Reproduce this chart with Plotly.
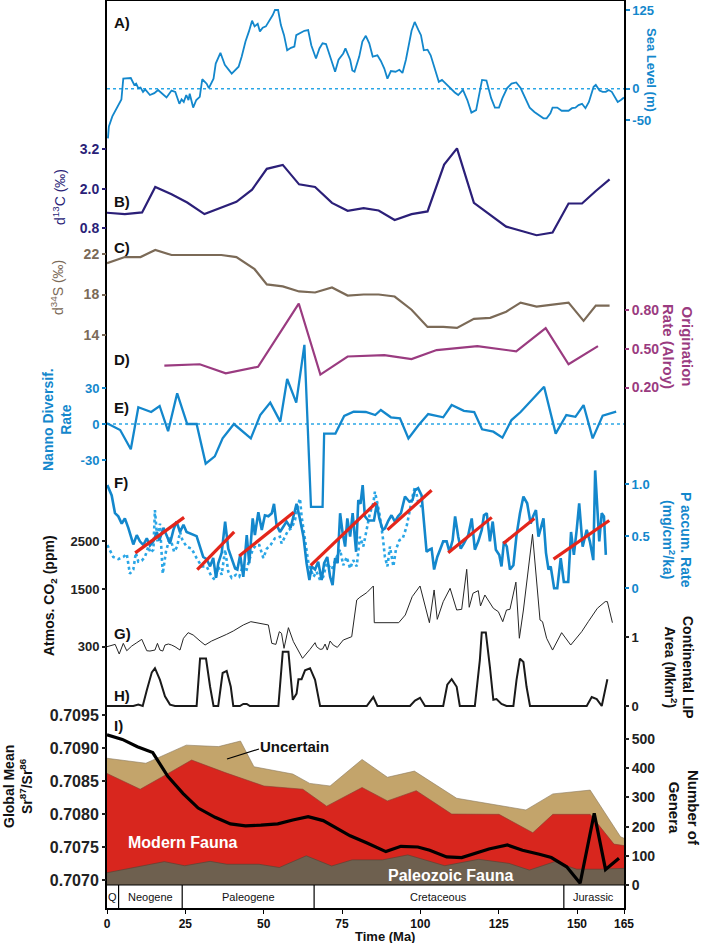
import plotly.graph_objects as go

# ---------------- data ----------------
SL_MA = [0.3,0.6,1.7,3.2,4.6,5.2,7.6,8.7,9.3,10.0,10.7,11.5,12.2,13.7,15.1,16.3,17.7,19.0,20.6,21.8,
         23.1,23.8,24.5,25.3,26.0,26.4,27.5,28.5,29.6,30.4,31.8,32.5,34.0,34.7,36.2,37.6,39.8,42.0,43.0,44.2,
         45.3,46.3,47.1,48.1,48.8,49.7,50.7,51.9,52.9,53.6,54.6,55.5,56.5,57.5,58.7,59.8,60.4,63.0,64.2,65.2,
         66.7,67.8,68.8,69.9,71.0,72.8,73.9,75.4,76.1,77.6,78.3,79.0,80.5,81.5,82.6,83.7,84.8,86.3,87.4,88.5,
         89.5,90.6,92.1,93.3,94.3,95.4,97.2,98.2,99.4,100.2,101.1,102.3,103.3,104.7,105.9,106.9,108.1,109.5,111.0,112.1,
         113.6,115.0,116.3,117.8,119.0,119.7,121.1,122.6,123.8,125.1,126.2,127.7,129.1,130.6,132.0,133.5,134.9,136.4,137.8,139.3,
         140.3,141.5,142.2,143.7,145.1,147.3,148.4,149.5,150.5,151.6,152.7,153.8,155.3,156.0,157.2,158.2,159.2,160.1,161.1,162.1,
         163.0,164.0,165.0]
SEA_LEVEL = [-79,-60,-44,-29,-17,16,17,6,8,1,2,-5,-1,-10,-7,-2,-9,-14,-3,-5,
             -24,-17,-21,-10,-18,-8,-30,-18,-13,15,8,1,16,40,57,38,24,35,51,75,
             91,108,99,103,91,97,99,108,117,125,125,101,85,61,65,67,85,92,93,69,
             48,64,72,71,53,27,46,56,64,46,29,27,51,75,84,72,51,53,44,32,
             16,28,27,30,25,46,92,106,93,85,61,62,53,30,11,14,8,2,-6,-10,
             -2,-18,-38,-34,-6,14,13,-15,-30,-30,-15,1,8,10,1,-15,-30,-37,-42,-47,
             -47,-39,-30,-30,-35,-35,-31,-30,-26,-24,-31,-21,3,6,-3,-5,-5,-2,-5,-13,
             -21,-18,-14]

C13_MA = [0,5.7,11.2,15.4,20.6,25.6,31.1,36.2,41.3,46.3,51.0,56.1,61.3,66.4,71.8,76.8,81.9,86.7,91.8,97.2,
          102.3,107.6,111.7,117.1,122.3,127.4,137.1,142.2,147.3,151.6,156.0,160.4]
D13C = [1.27,1.23,1.28,2.05,1.83,1.58,1.23,1.42,1.60,1.97,2.60,2.72,2.13,2.05,1.57,1.33,1.41,1.34,1.05,1.23,
        1.31,2.73,3.22,1.57,1.20,0.85,0.59,0.67,1.55,1.55,1.93,2.28]

S34_MA = [0,5.7,10.7,15.4,20.6,26.7,36.5,41.3,47.1,51.0,56.1,61.3,66.4,71.8,76.8,81.9,86.7,91.8,97.2,102.3,
          107.3,111.7,117.1,122.3,127.4,132.0,137.1,142.2,147.3,152.1,156.0,160.4]
D34S = [21.1,21.7,21.7,22.4,21.9,21.9,21.9,21.7,20.5,19.0,18.8,18.3,18.2,18.7,17.9,18.0,18.0,17.8,16.5,14.8,
        14.8,14.7,15.6,15.7,16.3,17.2,16.8,17.0,17.2,15.4,16.9,16.9]

ORIG_MA = [18.3,29.6,37.9,48.2,61.2,68.1,76.8,88.5,97.2,105.2,118.2,130.6,140.0,147.3,156.7]
ORIG_RATE = [0.37,0.38,0.31,0.36,0.85,0.30,0.44,0.45,0.42,0.49,0.52,0.48,0.66,0.38,0.52]

NANNO_MA = [0,4.2,7.6,10.0,14.1,16.8,19.5,22.4,25.6,28.6,31.5,34.4,36.9,40.5,45.9,48.9,52.1,55.3,57.5,60.4,
            63.0,65.1,68.8,69.3,72.9,75.7,78.7,82.6,85.6,87.4,90.6,93.5,96.2,99.4,102.5,107.3,110.0,113.9,117.2,119.7,
            123.3,126.2,129.1,132.0,139.5,143.2,146.6,149.5,152.1,155.0,158.2,162.5]
NANNO_RATE = [0.6,-5,-21,14,10,15,-6,25.6,0,0,-33,-27,-12,0,-12,7.5,17.8,2,37.5,17.8,
              66,-69,-69,-8,-8,6.7,10.3,10,7.5,11.7,5.6,4.7,-12,-1,8.3,5.6,15.8,11,10,-4.4,
              -6.4,-11.4,3.3,10,31,-8,7.5,6,15.8,-12,7,10.3]

P_MA = [0.1,1.5,2.55,3.6,4.7,5.7,6.8,8.4,9.5,10.5,11.6,12.7,13.7,14.8,15.9,16.7,18.0,19.0,20.1,21.2,
        22.2,23.3,24.4,25.4,27.6,28.6,30.7,31.8,32.9,33.9,34.8,35.5,36.6,37.7,38.7,39.8,40.9,41.6,42.5,43.5,
        44.6,45.4,46.5,47.2,48.3,49.4,50.4,51.5,52.6,53.3,54.1,
        55.2,56.3,57.3,58.6,59.6,60.5,61.4,62.7,63.7,64.6,65.3,66.4,67.4,68.5,69.3,70.3,71.2,72.0,72.8,73.6,
        74.4,75.2,76.0,76.7,77.6,78.4,79.5,80.2,80.9,81.6,82.3,83.4,84.5,85.2,86.1,86.9,88.0,88.7,89.8,90.8,
        91.9,92.9,93.8,95.1,96.5,97.5,98.3,99.3,100.4,101.2,102.0,102.9,103.6,104.4,105.4,106.3,
        107.3,108.4,109.3,110.3,111.1,112.1,112.9,113.9,115.3,116.4,117.4,118.5,119.6,120.3,121.2,122.2,123.1,124.1,125.2,125.9,
        126.7,127.6,128.6,129.7,130.7,131.8,132.9,134.1,135.2,136.0,136.9,137.7,138.5,139.3,140.1,140.9,141.6,142.7,143.7,144.8,
        145.8,147.2,148.1,149.0,149.9,150.7,151.8,153.1,154.1,155.2,155.8,156.5,157.1,157.9,158.6,159.2]
P_RATE = [0.99,0.89,0.72,0.69,0.62,0.67,0.58,0.42,0.51,0.45,0.415,0.48,0.41,0.45,0.54,0.46,0.58,0.51,0.43,0.56,
          0.64,0.54,0.61,0.54,0.51,0.50,0.30,0.28,0.21,0.29,0.10,0.24,0.34,0.64,0.38,0.29,0.19,0.18,0.32,0.11,
          0.51,0.24,0.67,0.51,0.73,0.56,0.70,0.69,0.72,0.81,0.61,
          0.54,0.59,0.64,0.58,0.69,0.81,0.69,0.495,0.24,0.08,0.21,0.18,0.255,0.08,0.24,0.30,0.11,0.03,0.29,0.24,
          0.72,0.53,0.40,0.67,0.495,0.72,0.35,0.845,0.81,0.99,0.69,0.65,0.65,0.65,0.81,0.67,0.56,0.575,0.65,0.70,
          0.64,0.69,0.72,0.88,0.83,0.845,0.94,0.96,0.89,0.64,0.35,0.37,0.38,0.18,0.30,0.37,
          0.45,0.45,0.35,0.46,0.69,0.495,0.38,0.43,0.51,0.67,0.37,0.45,0.56,0.70,0.72,0.45,0.64,0.37,0.32,0.21,
          0.45,0.40,0.18,0.22,0.51,0.72,0.88,0.815,0.62,0.69,0.75,0.495,0.575,0.67,0.34,0.18,0.21,0.0,0.0,0.29,
          0.06,0.06,0.54,0.32,0.56,0.815,0.40,0.56,0.45,0.27,1.13,0.75,0.45,0.72,0.69,0.32]

P2_MA = [0.1,2.0,3.6,5.2,6.3,7.3,8.4,9.2,10.0,11.1,12.1,13.2,13.9,14.8,15.3,16.1,16.9,17.8,18.8,20.1,
         21.4,22.4,23.3,24.1,25.4,27.0,28.6,30.2,31.8,33.4,34.5,35.5,36.6,37.7,38.7,39.8,41.2,42.2,43.3,44.4,
         45.4,46.5,47.5,48.6,49.9,51.0,52.2,53.6,55.2,
         55.7,56.8,57.9,58.9,60.0,61.1,61.6,62.1,63.2,64.3,65.9,66.9,68.0,69.0,70.1,71.7,73.3,74.4,75.4,76.5,
         77.6,78.6,79.7,80.7,81.8,82.9,83.9,85.0,85.5,86.3,87.1,88.0,88.7,89.5,90.3,91.4,92.2,93.3,94.4,95.6,
         96.7,97.5,98.3,99.3,100.4]
P2_RATE = [0.415,0.30,0.28,0.30,0.33,0.14,0.18,0.34,0.255,0.265,0.30,0.40,0.34,0.37,0.75,0.45,0.62,0.14,0.35,0.495,
           0.35,0.40,0.54,0.46,0.40,0.38,0.29,0.21,0.21,0.11,0.08,0.21,0.13,0.37,0.16,0.10,0.13,0.11,0.21,0.16,
           0.27,0.37,0.415,0.415,0.29,0.38,0.415,0.48,0.495,
           0.43,0.495,0.56,0.575,0.655,0.815,0.86,0.69,0.46,0.24,0.11,0.16,0.08,0.11,0.24,0.18,0.30,0.37,0.22,0.30,
           0.19,0.27,0.21,0.495,0.40,0.56,0.72,0.815,0.926,0.815,0.69,0.495,0.30,0.21,0.40,0.21,0.37,0.46,0.48,0.59,
           0.77,0.88,0.975,0.83,0.78]

TREND_MA_START = [9.0,28.8,42.2,65.0,89.5,108.9,126.5,142.5]
TREND_MA_END = [24.6,40.6,59.6,85.9,103.6,122.8,136.4,160.3]
TREND_P_START = [0.34,0.18,0.31,0.22,0.56,0.34,0.43,0.28]
TREND_P_END = [0.68,0.54,0.73,0.82,0.94,0.68,0.67,0.65]

CO2_MA = [0,1.5,2.6,3.9,5.2,6.3,7.9,9.5,11.1,12.7,13.7,15.3,16.1,16.9,17.8,18.5,19.6,20.6,21.7,23.3,
          24.4,25.9,27.5,29.7,31.3,33.4,35.5,38.2,40.3,43.5,45.9,48.3,51.5,52.6,53.9,55.0,55.7,56.5,57.9,59.5,
          61.1,62.4,64.8,66.4,66.9,68.0,68.8,69.6,70.3,71.2,72.2,73.5,75.4,78.1,79.7,80.7,82.9,85.0,85.3,93.1,
          95.2,97.4,99.9,101.5,102.9,104.4,105.4,107.3,109.5,111.6,113.2,114.8,115.6,116.8,118.5,119.2,120.6,123.3,124.9,126.3,
          127.5,128.6,130.5,131.6,132.9,135.8,138.2,139.0,140.3,142.2,145.1,148.0,151.5,153.6,156.5,159.0,159.7,161.3]
CO2 = [300,335,349,147,370,216,314,384,454,216,209,230,370,230,209,335,356,335,300,230,
       475,593,545,419,335,419,475,559,628,754,823,789,754,370,349,614,580,266,698,405,
       196,57,245,384,300,245,251,356,230,419,335,286,440,509,1276,1333,1430,1569,802,802,
       963,1346,1569,1172,802,1486,872,1241,1521,1067,1081,1918,1124,1417,1472,1151,1381,1103,1032,823,
       1067,1081,1650,476,1067,2650,858,823,476,230,593,335,614,823,1103,1242,1242,802]

LIP_MA = [0,8.4,10.0,11.4,12.7,14.3,15.3,16.9,18.5,20.1,21.7,28.6,29.7,31.6,32.9,34.0,35.5,36.9,38.2,39.5,
          40.3,42.4,43.5,44.6,45.6,54.7,56.1,57.9,59.3,60.5,61.1,62.1,63.2,64.8,66.4,68.0,82.9,85.0,86.3,96.7,
          98.3,99.9,101.5,107.3,108.6,110.0,111.6,112.6,117.4,119.0,119.6,120.9,122.2,123.3,124.3,125.9,127.5,129.7,130.7,131.8,
          132.9,133.9,135.0,153.1,154.7,156.3,157.9,159.7]
LIP_AREA = [0,0,0.02,0,0.23,0.49,0.55,0.38,0.14,0.02,0,0,0.69,0.69,0.28,0,0,0.48,0.51,0.28,
            0,0,0.03,0.03,0,0,0.79,0.79,0.09,0.18,0.39,0.39,0.52,0.55,0.38,0,0,0.13,0,0,
            0.08,0.12,0,0,0.31,0.39,0.28,0,0,0.67,1.07,1.07,0.57,0.09,0.1,0.03,0,0,0.38,0.69,
            0.64,0.28,0,0,0.13,0.1,0,0.39]

PALEO_MA = [0,11.3,18.3,24.8,32.9,38.3,48.5,55.0,63.6,71.7,78.2,87.9,96.0,107.8,118.6,128.3,134.8,142.9,149.9,157.4,165]
PALEO_GENERA = [42,66,80,66,81,71,71,60,100,65,86,86,103,66,88,74,51,80,54,54,57]
MODERN_MA = [0,10.6,20.5,27.0,37.7,50.1,62.5,70.1,81.4,89.5,98.7,110.0,125.1,135.9,142.3,154.2,161.8,165]
MODERN_CUM = [382,328,388,428,385,339,328,270,334,288,323,243,242,179,242,242,140,135]
UNCERT_MA = [0,12.4,25.3,35.6,42.6,46.9,59.3,64.7,71.2,81.4,89.5,98.1,111.6,133.7,142.3,154.2,163.9,165]
UNCERT_CUM = [434,417,479,474,493,405,380,348,339,430,369,390,297,257,312,325,165,160]

SR_MA = [0,4.9,9.7,14.6,19.4,24.3,29.1,34.5,39.4,44.2,49.1,54.5,59.3,64.2,69.0,73.3,77.6,83.0,89.0,93.8,
         99.2,103.0,108.4,113.2,117.5,121.9,127.8,132.6,138.0,141.8,146.7,151.0,155.5,159.1,163.4]
SR_RATIO = [0.70920,0.70913,0.70902,0.70893,0.70857,0.70831,0.70809,0.70795,0.70785,0.70782,
            0.70783,0.70785,0.70791,0.70796,0.70790,0.70778,0.70767,0.70756,0.70743,0.70751,
            0.70750,0.70745,0.70735,0.70734,0.70740,0.70747,0.70753,0.70745,0.70739,0.70734,
            0.70720,0.70695,0.70801,0.70716,0.70733]

PERIOD_EDGES = [0, 3.7, 24.0, 66.1, 145.8, 165]
PERIOD_NAMES = ["Q", "Neogene", "Paleogene", "Cretaceous", "Jurassic"]

TIME_TICKS = [0, 25, 50, 75, 100, 125, 150, 165]
SL_TICKS = [125, 0, -50]
D13C_TICKS = [3.2, 2.0, 0.8]
D34S_TICKS = [22, 18, 14]
ORIG_TICKS = [0.80, 0.50, 0.20]
NANNO_TICKS = [30, 0, -30]
P_TICKS = [1.0, 0.5, 0]
CO2_TICKS = [2500, 1500, 300]
LIP_TICKS = [1, 0]
SR_TICKS = [0.7095, 0.7090, 0.7085, 0.7080, 0.7075, 0.7070]
GEN_TICKS = [500, 400, 300, 200, 100, 0]

# ---------------- geometry helpers ----------------
W, H = 709, 943
L, R, T, B = 107, 624, 1, 908


def px(x):
    return (x - L) / (R - L)


def py(y):
    return (B - y) / (B - T)


def rng(v1, p1, v2, p2):
    f1, f2 = py(p1), py(p2)
    a = (f2 - f1) / (v2 - v1)
    return [v1 - f1 / a, v1 + (1 - f1) / a]


FONT = "Liberation Sans, Arial, sans-serif"
BLUE = "#1387cc"
LBLUE = "#2aa6e6"
NAVY = "#2b1f78"
BROWN = "#7b6a57"
PURPLE = "#9a3b80"
TREND_RED = "#e3261b"
TAN = "#c3a46b"
FAUNA_RED = "#d8261e"
DARK = "#6e604f"


def fmt(v, nd):
    return f"{v:.{nd}f}"


fig = go.Figure()

# I) genera fills (y2)
fig.add_trace(go.Scatter(x=UNCERT_MA, y=UNCERT_CUM, yaxis="y2", mode="lines", fill="tozeroy",
                         fillcolor=TAN, line=dict(color="#8b7a60", width=0.6)))
fig.add_trace(go.Scatter(x=MODERN_MA, y=MODERN_CUM, yaxis="y2", mode="lines", fill="tozeroy",
                         fillcolor=FAUNA_RED, line=dict(color="#8b3a30", width=0.6)))
fig.add_trace(go.Scatter(x=PALEO_MA, y=PALEO_GENERA, yaxis="y2", mode="lines", fill="tozeroy",
                         fillcolor=DARK, line=dict(color="#4e4436", width=0.6)))
# I) Sr (y3)
fig.add_trace(go.Scatter(x=SR_MA, y=SR_RATIO, yaxis="y3", mode="lines",
                         line=dict(color="black", width=3.2)))
# A) sea level (y)
fig.add_trace(go.Scatter(x=[0, 165], y=[0, 0], yaxis="y", mode="lines",
                         line=dict(color=LBLUE, width=1.5, dash="dot")))
fig.add_trace(go.Scatter(x=SL_MA, y=SEA_LEVEL, yaxis="y", mode="lines",
                         line=dict(color=BLUE, width=1.8)))
# B) d13C (y4)
fig.add_trace(go.Scatter(x=C13_MA, y=D13C, yaxis="y4", mode="lines", line=dict(color=NAVY, width=2.2)))
# C) d34S (y5)
fig.add_trace(go.Scatter(x=S34_MA, y=D34S, yaxis="y5", mode="lines", line=dict(color=BROWN, width=2.2)))
# D) origination (y6)
fig.add_trace(go.Scatter(x=ORIG_MA, y=ORIG_RATE, yaxis="y6", mode="lines", line=dict(color=PURPLE, width=2.2)))
# E) nanno (y7)
fig.add_trace(go.Scatter(x=[0, 165], y=[0, 0], yaxis="y7", mode="lines",
                         line=dict(color=LBLUE, width=1.5, dash="dot")))
fig.add_trace(go.Scatter(x=NANNO_MA, y=NANNO_RATE, yaxis="y7", mode="lines", line=dict(color=BLUE, width=2.3)))
# G) CO2 (y9)
fig.add_trace(go.Scatter(x=CO2_MA, y=CO2, yaxis="y9", mode="lines", line=dict(color="#262626", width=1)))
# H) LIP (y10)
fig.add_trace(go.Scatter(x=LIP_MA, y=LIP_AREA, yaxis="y10", mode="lines", line=dict(color="#1a1a1a", width=2)))
# F) P accumulation (y8)
fig.add_trace(go.Scatter(x=P2_MA, y=P2_RATE, yaxis="y8", mode="lines",
                         line=dict(color=LBLUE, width=2.6, dash="dot")))
fig.add_trace(go.Scatter(x=P_MA, y=P_RATE, yaxis="y8", mode="lines", line=dict(color=BLUE, width=2.6)))
tx, ty = [], []
for a0, a1, b0, b1 in zip(TREND_MA_START, TREND_MA_END, TREND_P_START, TREND_P_END):
    tx += [a0, a1, None]
    ty += [b0, b1, None]
fig.add_trace(go.Scatter(x=tx, y=ty, yaxis="y8", mode="lines", line=dict(color=TREND_RED, width=3.2)))


def yax(side, r, vals, texts, color, size=13, weight="bold", overlay=True, **kw):
    d = dict(domain=[0, 1], anchor="x", side=side, range=r, tickmode="array", tickvals=vals,
             ticktext=texts, ticks="outside", ticklen=4, tickwidth=1.5, tickcolor=color,
             tickfont=dict(family=FONT, size=size, color=color, weight=weight),
             showgrid=False, zeroline=False, showline=False, fixedrange=True, automargin=False)
    if overlay:
        d["overlaying"] = "y"
    d.update(kw)
    return d


layout_axes = dict(
    yaxis=yax("right", rng(0, 88.7, 125, 10), SL_TICKS, [str(v) for v in SL_TICKS], BLUE, 13,
              overlay=False, showline=True, linecolor="black", linewidth=1.5, mirror=True),
    yaxis2=yax("right", rng(0, 885, 500, 739), GEN_TICKS, [str(v) for v in GEN_TICKS], "#222", 14),
    yaxis3=yax("left", rng(0.7070, 880, 0.7095, 715), SR_TICKS, [fmt(v, 4) for v in SR_TICKS], "#222", 16),
    yaxis4=yax("left", rng(3.2, 149, 0.8, 228.3), D13C_TICKS, [fmt(v, 1) for v in D13C_TICKS], NAVY, 14),
    yaxis5=yax("left", rng(22, 254, 14, 335), D34S_TICKS, [str(v) for v in D34S_TICKS], BROWN, 14),
    yaxis6=yax("right", rng(0.80, 310, 0.20, 387.5), ORIG_TICKS, [fmt(v, 2) for v in ORIG_TICKS], PURPLE, 14),
    yaxis7=yax("left", rng(0, 424, 30, 388), NANNO_TICKS, [str(v) for v in NANNO_TICKS], BLUE, 13),
    yaxis8=yax("right", rng(1.0, 484, 0, 588.3), P_TICKS, ["1.0", "0.5", "0"], BLUE, 13),
    yaxis9=yax("left", rng(1500, 589.3, 300, 646.7), CO2_TICKS, [str(v) for v in CO2_TICKS], "#222", 13),
    yaxis10=yax("right", rng(0, 706, 1, 637.3), LIP_TICKS, [str(v) for v in LIP_TICKS], "#222", 13),
)

shapes = [
    dict(type="line", xref="paper", yref="paper", x0=0, x1=1, y0=py(885), y1=py(885),
         line=dict(color="black", width=1.2)),
    dict(type="line", xref="paper", yref="paper", x0=px(227), y0=py(759), x1=px(259), y1=py(749),
         line=dict(color="black", width=1.3)),
]
for e in PERIOD_EDGES[1:-1]:
    shapes.append(dict(type="line", xref="x", yref="paper", x0=e, x1=e, y0=py(885), y1=py(908),
                       line=dict(color="black", width=1.2)))


def ann(text, x, y, size=14, color="black", angle=0, weight="bold", xanchor="center", xref="paper"):
    return dict(text=text, x=px(x) if xref == "paper" else x, y=py(y), xref=xref, yref="paper",
                showarrow=False, textangle=angle, xanchor=xanchor, yanchor="middle",
                font=dict(family=FONT, size=size, color=color, weight=weight))


annotations = []
for i, name in enumerate(PERIOD_NAMES):
    mid = (PERIOD_EDGES[i] + PERIOD_EDGES[i + 1]) / 2
    annotations.append(ann(name, mid, 896.5, 11, "#111", weight="normal", xref="x"))

for lab, yy in [("A)", 23), ("B)", 201), ("C)", 247), ("D)", 360), ("E)", 407),
                ("F)", 482), ("G)", 633), ("H)", 695), ("I)", 725)]:
    annotations.append(ann(lab, 112, yy, 15, "#111", xanchor="left"))

annotations += [
    ann("Sea Level (m)", 652, 70, 13, BLUE, 90),
    ann("d<sup>13</sup>C (‰)", 59, 197, 14, NAVY, -90, "normal"),
    ann("d<sup>34</sup>S (‰)", 57, 288, 14, BROWN, -90, "normal"),
    ann("Origination<br>Rate (Alroy)", 678, 346, 15, PURPLE, 90),
    ann("Nanno Diversif.<br>Rate", 57, 420, 14, BLUE, -90),
    ann("Atmos. CO<sub>2</sub> (ppm)", 50, 596, 14, "#111", -90),
    ann("P accum. Rate<br>(mg/cm<sup>2</sup>/ka)", 677, 540, 14, BLUE, 90),
    ann("Continental LIP<br>Area (Mkm<sup>2</sup>)", 679, 667, 14, "#111", 90),
    ann("Global Mean<br>Sr<sup>87</sup>/Sr<sup>86</sup>", 18, 787, 14, "#111", -90),
    ann("Number of<br>Genera", 684, 808, 15, "#111", 90),
    ann("Uncertain", 294, 746, 15, "#111"),
    ann("Modern Fauna", 182, 842, 16, "white"),
    ann("Paleozoic Fauna", 450, 875, 16, "white"),
    ann("Time (Ma)", 385, 936.5, 13, "#111"),
]

fig.update_layout(
    width=W, height=H, margin=dict(l=L, r=W - R, t=T, b=H - B, autoexpand=False),
    paper_bgcolor="white", plot_bgcolor="white", showlegend=False,
    xaxis=dict(range=[0, 165], domain=[0, 1], anchor="y", showline=True, linecolor="black",
               linewidth=1.5, mirror=True, ticks="outside", ticklen=4, tickcolor="black",
               tickmode="array", tickvals=TIME_TICKS, ticktext=[str(v) for v in TIME_TICKS],
               tickfont=dict(family=FONT, size=12, color="#111", weight="bold"),
               showgrid=False, zeroline=False, fixedrange=True, automargin=False),
    shapes=shapes, annotations=annotations,
    **layout_axes,
)

fig.write_html("out.html", config={"displayModeBar": False},
               post_script="document.body.style.margin='0';document.body.style.padding='0';"
                           "document.body.style.overflow='hidden';")
